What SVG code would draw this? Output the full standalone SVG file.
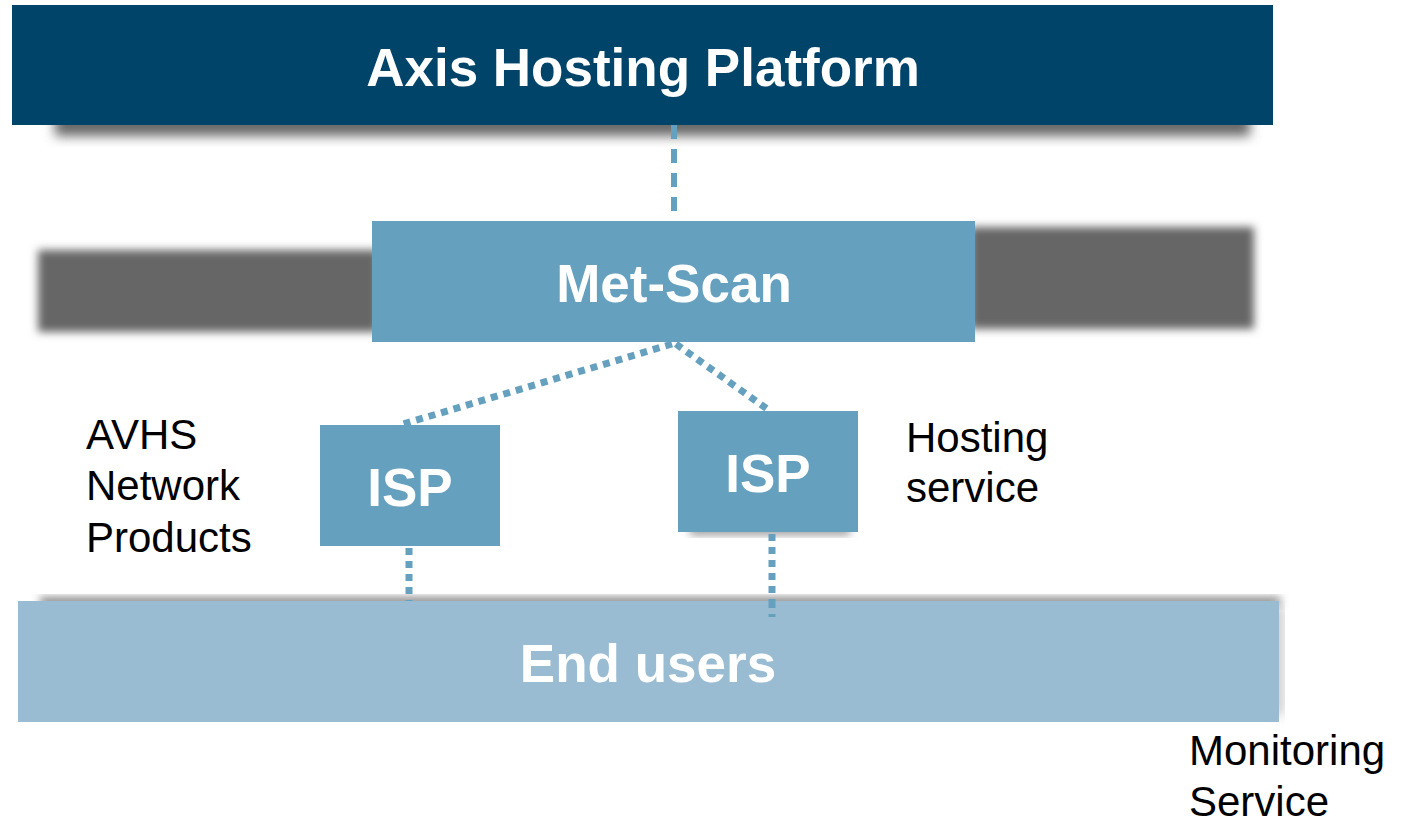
<svg xmlns="http://www.w3.org/2000/svg" width="1404" height="823" viewBox="0 0 1404 823">
<defs>
<filter id="blur3" x="-5%" y="-30%" width="110%" height="160%"><feGaussianBlur stdDeviation="4"/></filter>
<filter id="blur6" x="-5%" y="-50%" width="110%" height="200%"><feGaussianBlur stdDeviation="6"/></filter>
<style>
.box-title{font-family:"Liberation Sans",Arial,sans-serif;font-weight:bold;font-size:53px;fill:#ffffff;text-anchor:middle}
.label{font-family:"Liberation Sans",Arial,sans-serif;font-size:42px;fill:#000000}
.dot{fill:none;stroke:#66a0bf;stroke-width:7;stroke-dasharray:7 6}
.dash{fill:none;stroke:#66a0bf;stroke-width:6;stroke-dasharray:14 10}
</style>
</defs>
<rect width="1404" height="823" fill="#ffffff"/>

<g id="shadows">
<rect x="55" y="114" width="1195" height="22" fill="#666" filter="url(#blur6)"/>
<rect x="38" y="250" width="340" height="82" fill="#666" filter="url(#blur3)"/>
<rect x="970" y="227" width="284" height="102" fill="#666" filter="url(#blur3)"/>
<rect x="40" y="597" width="1240" height="10" fill="#888" filter="url(#blur3)"/>
<rect x="1270" y="605" width="14" height="110" fill="#ccc" filter="url(#blur6)"/>
<rect x="690" y="525" width="160" height="10" fill="#999" filter="url(#blur3)"/>
</g>

<g id="connectors">
<line class="dash" x1="674" y1="125" x2="674" y2="221"/>
<line class="dot" x1="672" y1="344" x2="400" y2="425"/>
<line class="dot" x1="676" y1="344" x2="770" y2="411"/>
<line class="dot" x1="409" y1="548" x2="409" y2="601"/>
<line class="dot" x1="772" y1="534" x2="772" y2="617"/>
</g>

<g id="axis-hosting-platform">
<rect x="12" y="5" width="1261" height="120" fill="#00446a"/>
<text class="box-title" x="643" y="86">Axis Hosting Platform</text>
</g>

<g id="met-scan">
<rect x="372" y="221" width="603" height="121" fill="#66a0bf"/>
<text class="box-title" x="674" y="302">Met-Scan</text>
</g>

<g id="isp-left">
<rect x="320" y="425" width="180" height="121" fill="#66a0bf"/>
<text class="box-title" x="410" y="506">ISP</text>
</g>

<g id="isp-right">
<rect x="678" y="411" width="180" height="121" fill="#66a0bf"/>
<text class="box-title" x="768" y="492">ISP</text>
</g>

<g id="end-users">
<rect x="18" y="601" width="1261" height="121" fill="#9abcd3"/>
<line class="dot" x1="772" y1="601" x2="772" y2="617"/>
<text class="box-title" x="648" y="682">End users</text>
</g>

<g id="labels">
<text class="label" x="86" y="449">AVHS</text>
<text class="label" x="86" y="500">Network</text>
<text class="label" x="86" y="552">Products</text>
<text class="label" x="906" y="452">Hosting</text>
<text class="label" x="906" y="502">service</text>
<text class="label" x="1189" y="765">Monitoring</text>
<text class="label" x="1189" y="816">Service</text>
</g>
</svg>
